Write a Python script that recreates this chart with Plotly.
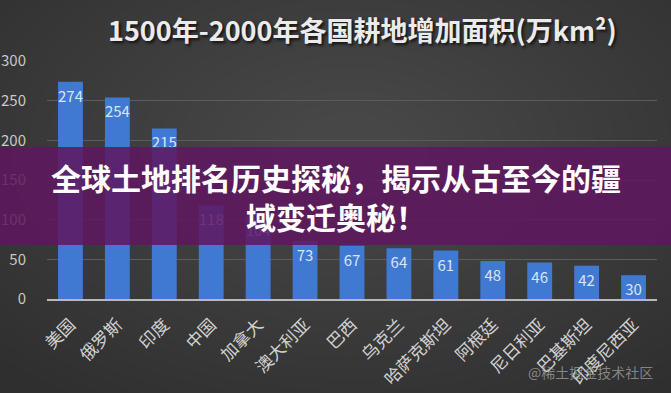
import plotly.graph_objects as go

countries = ["美国", "俄罗斯", "印度", "中国", "加拿大", "澳大利亚", "巴西", "乌克兰",
             "哈萨克斯坦", "阿根廷", "尼日利亚", "巴基斯坦", "印度尼西亚"]
increase = [274, 254, 215, 118, 104, 73, 67, 64, 61, 48, 46, 42, 30]
y_ticks = [0, 50, 100, 150, 200, 250, 300]

title_text = "1500年-2000年各国耕地增加面积(万km²)"
banner_text = "全球土地排名历史探秘，揭示从古至今的疆<br>域变迁奥秘！"
watermark = "@稀土掘金技术社区"

FONT = "Noto Sans CJK SC"
L, R, T, B = 47, 14, 61, 94
PW, PH = 671 - L - R, 393 - T - B


def px(x):
    return (x - L) / PW


def py(y):
    return (393 - B - y) / PH


fig = go.Figure()
fig.add_trace(go.Bar(
    x=countries, y=increase,
    text=[str(v) for v in increase],
    textposition="inside", insidetextanchor="end", textangle=0,
    constraintext="none",
    textfont=dict(family=FONT, size=15, color="#d8e5f7"),
    marker=dict(color="#4079d1", line=dict(width=0)),
    cliponaxis=False,
))

shapes = []
n = 24
for i in range(n):
    r = 1.0 - i * 0.038
    shapes.append(dict(type="circle", xref="paper", yref="paper",
                       x0=px(350) - r * 0.8, x1=px(350) + r * 0.8,
                       y0=py(150) - r * 1.25, y1=py(150) + r * 1.25,
                       fillcolor="rgba(255,255,255,0.0085)", line=dict(width=0),
                       layer="below"))
shapes.append(dict(type="rect", xref="paper", yref="paper",
                   x0=px(0), x1=px(671), y0=py(245), y1=py(147),
                   fillcolor="rgba(96,22,96,0.86)", line=dict(width=0), layer="above"))

fig.update_layout(
    width=671, height=393,
    margin=dict(l=L, r=R, t=T, b=B, autoexpand=False),
    paper_bgcolor="#2f2f2f", plot_bgcolor="rgba(0,0,0,0)",
    bargap=0.47, showlegend=False,
    shapes=shapes,
    xaxis=dict(tickangle=-45, tickfont=dict(family=FONT, size=17, color="#d2d2d2"),
               showline=True, linecolor="#b8b8b8", linewidth=2, showgrid=False,
               ticks="", zeroline=False, automargin=False, ticklabelstandoff=7),
    yaxis=dict(range=[0, 300], tickvals=y_ticks, tickfont=dict(family=FONT, size=15, color="#c8c8c8"),
               showgrid=True, gridcolor="#5c5c5c", gridwidth=1, zeroline=False,
               ticks="", ticklabelstandoff=20, showline=False, automargin=False),
    annotations=[
        dict(text=title_text, xref="paper", yref="paper", x=px(362), y=py(29),
             showarrow=False, xanchor="center", yanchor="middle",
             font=dict(family=FONT, size=27, color="#ebebeb", weight="bold",
                       shadow="2px 2px 3px rgba(0,0,0,0.7)")),
        dict(text=banner_text, xref="paper", yref="paper", x=px(336), y=py(196),
             showarrow=False, xanchor="center", yanchor="middle", align="center",
             font=dict(family=FONT, size=30, color="#ffffff", weight="bold")),
        dict(text=watermark, xref="paper", yref="paper", x=px(655), y=py(372),
             showarrow=False, xanchor="right", yanchor="middle",
             font=dict(family=FONT, size=14, color="rgba(190,190,190,0.6)")),
    ],
)

fig.write_html("out.html", config={"displayModeBar": False},
               post_script="document.body.style.margin='0';document.body.style.overflow='hidden';")
